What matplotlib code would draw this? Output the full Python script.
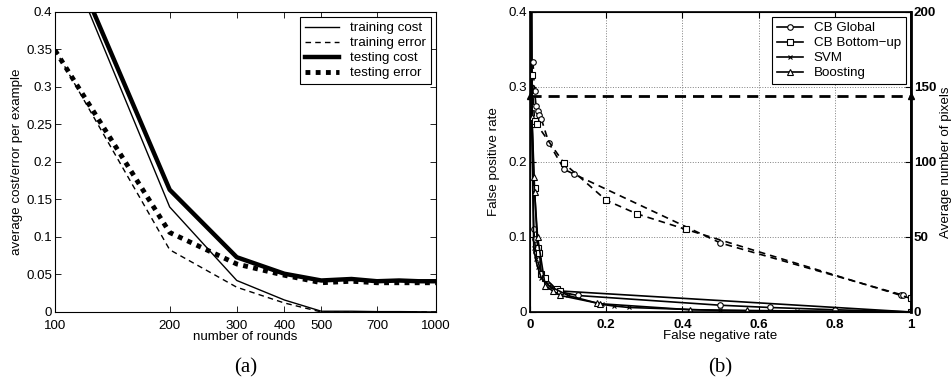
import numpy as np
import matplotlib
matplotlib.use("Agg")
import matplotlib.pyplot as plt
from matplotlib.lines import Line2D

plt.rcParams['font.family'] = ['Liberation Sans', 'DejaVu Sans']
FS = 9.6

# ── (a) cost / error vs number of rounds ─────────────────────────────────────
rounds = [100, 200, 300, 400, 500, 600, 700, 800, 900, 1000]
train_cost = [0.51, 0.140, 0.042, 0.016, 0.001, 0.001, 0.0005, 0.0005, 0.0003, 0.0]
train_err = [0.35, 0.083, 0.033, 0.012, 0.0, 0.0, 0.0, 0.0, 0.0, 0.0]
test_cost = [0.52, 0.163, 0.073, 0.051, 0.042, 0.044, 0.041, 0.042, 0.041, 0.041]
test_err = [0.349, 0.106, 0.064, 0.049, 0.039, 0.041, 0.039, 0.039, 0.039, 0.039]
round_ticks = [100, 200, 300, 400, 500, 700, 1000]

# ── (b) ROC curves (false negative rate, false positive rate) ────────────────
glob_fn = [0.0, 0.004, 0.01, 0.012, 0.015, 0.02, 0.03, 0.05, 0.07, 0.125, 0.5, 0.63, 0.8, 1.0]
glob_fp = [1.0, 0.3, 0.11, 0.097, 0.08, 0.07, 0.05, 0.035, 0.028, 0.022, 0.009, 0.006, 0.003, 0.0]
bu_fn = [0.0, 0.006, 0.012, 0.02, 0.025, 0.03, 0.04, 0.07, 0.08, 1.0]
bu_fp = [1.0, 0.25, 0.165, 0.085, 0.078, 0.05, 0.045, 0.03, 0.028, 0.0]
svm_fn = [0.0, 0.003, 0.01, 0.015, 0.02, 0.03, 0.05, 0.1, 0.19, 0.22, 0.26, 0.5, 0.7, 0.9, 1.0]
svm_fp = [1.0, 0.3, 0.085, 0.07, 0.06, 0.045, 0.035, 0.022, 0.01, 0.008, 0.006, 0.002, 0.001, 0.0005, 0.0]
boost_fn = [0.0, 0.005, 0.01, 0.012, 0.02, 0.04, 0.06, 0.08, 0.175, 0.185, 0.42, 0.57, 1.0]
boost_fp = [1.0, 0.26, 0.18, 0.16, 0.1, 0.035, 0.028, 0.022, 0.012, 0.011, 0.003, 0.002, 0.0]

# average number of pixels (right axis)
glob_pix_fn = [0.008, 0.012, 0.016, 0.02, 0.025, 0.03, 0.05, 0.09, 0.115, 0.5, 0.975, 0.98]
glob_pix = [166.5, 147.5, 137.5, 134, 131.5, 128.5, 112.5, 95, 92, 46, 11.5, 11]
bu_pix_fn = [0.005, 0.012, 0.018, 0.09, 0.2, 0.28, 0.41, 1.0]
bu_pix = [158, 127.5, 125, 99, 74.5, 65.5, 55, 9]
boost_pix_fn = [0.0, 1.0]
boost_pix = [144, 144]

fig = plt.figure(figsize=(9.53, 3.83), dpi=100)

# ── Panel (a) ────────────────────────────────────────────────────────────────
ax1 = fig.add_axes([0.0577, 0.1854, 0.3998, 0.7833])
ax1.plot(rounds, train_cost, "-", color="black", lw=1.0, label="training cost")
ax1.plot(rounds, train_err, color="black", lw=1.0, dashes=(4, 3), label="training error")
ax1.plot(rounds, test_cost, "-", color="black", lw=3.2, label="testing cost")
ax1.plot(rounds, test_err, color="black", lw=3.5, dashes=(1, 1.1), label="testing error")
ax1.set_xscale("log")
ax1.set_xlim(100, 1000)
ax1.set_ylim(0, 0.4)
ax1.set_xticks(round_ticks)
ax1.set_xticklabels([str(r) for r in round_ticks])
ax1.xaxis.set_minor_locator(matplotlib.ticker.NullLocator())
ax1.set_yticks(np.arange(0, 0.41, 0.05))
ax1.set_yticklabels(["0", "0.05", "0.1", "0.15", "0.2", "0.25", "0.3", "0.35", "0.4"])
ax1.tick_params(direction="in", top=True, right=True, length=4, width=0.6, labelsize=FS)
ax1.tick_params(axis="x", pad=6)
ax1.tick_params(axis="y", pad=2)
for s in ax1.spines.values():
    s.set_linewidth(0.8)
ax1.set_xlabel("number of rounds", fontsize=FS, labelpad=-1)
ax1.set_ylabel("average cost/error per example", fontsize=FS, labelpad=2)
leg = ax1.legend(loc="upper right", fancybox=False, edgecolor="black", framealpha=1,
                 fontsize=FS, handlelength=2.6, borderaxespad=0.4, labelspacing=0.2,
                 borderpad=0.35)
leg.get_frame().set_linewidth(0.8)

# ── Panel (b) ────────────────────────────────────────────────────────────────
ax = fig.add_axes([0.5561, 0.1854, 0.3998, 0.7833])
mk = dict(color="black", lw=1.2, markersize=4, markerfacecolor="white", markeredgewidth=0.8)
ax.plot(glob_fn, glob_fp, marker="o", label="CB Global", **mk)
ax.plot(bu_fn, bu_fp, marker="s", label="CB Bottom\u2212up", **mk)
ax.plot(svm_fn, svm_fp, marker="x", label="SVM", **{**mk, "markersize": 3})
ax.plot(boost_fn, boost_fp, marker="^", label="Boosting", **mk)
ax.set_xlim(0, 1)
ax.set_ylim(0, 0.4)
ax.set_xticks([0, 0.2, 0.4, 0.6, 0.8, 1])
ax.set_xticklabels(["0", "0.2", "0.4", "0.6", "0.8", "1"], fontweight="bold")
ax.set_yticks([0, 0.1, 0.2, 0.3, 0.4])
ax.set_yticklabels(["0", "0.1", "0.2", "0.3", "0.4"])
ax.grid(True, linestyle=":", color="gray", lw=0.7)
ax.tick_params(direction="in", top=True, length=4, width=0.8, labelsize=FS, pad=2)
ax.tick_params(axis="x", pad=5)
for s in ax.spines.values():
    s.set_linewidth(1.2)
ax.set_xlabel("False negative rate", fontsize=FS, labelpad=-1)
ax.set_ylabel("False positive rate", fontsize=FS, labelpad=6)

ax2 = ax.twinx()
dk = dict(color="black", lw=1.2, dashes=(4, 3), markersize=4, markerfacecolor="white",
          markeredgewidth=0.8)
ax2.plot(glob_pix_fn, glob_pix, marker="o", **dk)
ax2.plot(bu_pix_fn, bu_pix, marker="s", **dk)
ax2.plot(boost_pix_fn, boost_pix, color="black", lw=2, dashes=(4, 2.5), marker="^",
         markersize=5, markerfacecolor="black", clip_on=False)
ax2.set_ylim(0, 200)
ax2.set_yticks([0, 50, 100, 150, 200])
ax2.set_yticklabels(["0", "50", "100", "150", "200"], fontweight="bold")
ax2.tick_params(direction="in", length=4, width=0.8, labelsize=FS, pad=2)
ax2.spines["right"].set_linewidth(2)
ax2.set_ylabel("Average number of pixels", fontsize=FS, labelpad=3)

handles = [Line2D([], [], marker=m, **({**mk, "markersize": 3} if m == "x" else mk))
           for m in ["o", "s", "x", "^"]]
leg2 = ax2.legend(handles, ["CB Global", "CB Bottom\u2212up", "SVM", "Boosting"],
                  loc="upper right", fancybox=False, edgecolor="black", framealpha=1,
                  fontsize=FS, handlelength=2.0, borderaxespad=0.4, labelspacing=0.2,
                  borderpad=0.35)
leg2.get_frame().set_linewidth(0.8)

# panel captions
fig.text(0.0577 + 0.3998 / 2, 0.04, "(a)", ha="center", va="center",
         family=["Liberation Serif", "DejaVu Serif"], fontsize=15)
fig.text(0.5561 + 0.3998 / 2, 0.04, "(b)", ha="center", va="center",
         family=["Liberation Serif", "DejaVu Serif"], fontsize=15)

fig.savefig("out.png", dpi=100)
